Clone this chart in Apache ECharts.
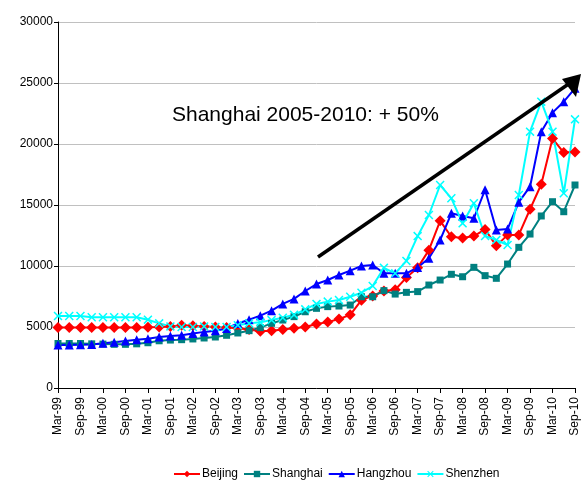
<!DOCTYPE html>
<html>
<head>
<meta charset="utf-8">
<script src="https://cdn.jsdelivr.net/npm/echarts@6/dist/echarts.min.js"></script>
<style>
html,body{margin:0;padding:0;background:#fff;}
#main{width:581px;height:481px;}
</style>
</head>
<body>
<div id="main"></div>
<script>
const quarters = ['Mar-99','Jun-99','Sep-99','Dec-99','Mar-00','Jun-00','Sep-00','Dec-00',
  'Mar-01','Jun-01','Sep-01','Dec-01','Mar-02','Jun-02','Sep-02','Dec-02',
  'Mar-03','Jun-03','Sep-03','Dec-03','Mar-04','Jun-04','Sep-04','Dec-04',
  'Mar-05','Jun-05','Sep-05','Dec-05','Mar-06','Jun-06','Sep-06','Dec-06',
  'Mar-07','Jun-07','Sep-07','Dec-07','Mar-08','Jun-08','Sep-08','Dec-08',
  'Mar-09','Jun-09','Sep-09','Dec-09','Mar-10','Jun-10','Sep-10'];

const beijing = [4950,4950,4950,4950,4950,4950,4950,4950,4980,5000,
  5050,5150,5100,5050,5000,4950,4900,4800,4650,4700,
  4800,4900,5000,5250,5400,5650,6000,7200,7550,7950,
  8050,9050,9850,11300,13700,12400,12300,12450,13000,11650,
  12550,12550,14650,16700,20450,19300,19350];

const shanghai = [3650,3650,3650,3620,3600,3580,3580,3620,3710,3870,
  3930,3960,4020,4100,4180,4320,4510,4700,4950,5300,
  5570,5850,6250,6530,6670,6720,6800,7480,7480,7980,
  7700,7840,7900,8440,8850,9320,9120,9890,9210,8990,
  10160,11530,12620,14100,15270,14450,16640];

const hangzhou = [3520,3530,3550,3560,3660,3750,3850,3960,4040,4180,
  4260,4320,4460,4600,4690,4880,5290,5600,5930,6340,
  6890,7300,7950,8520,8850,9260,9620,10000,10080,9400,
  9400,9400,9880,10630,12130,14320,14100,13910,16250,12950,
  13030,15230,16500,21010,22570,23470,24560];

const shenzhen = [5900,5900,5900,5800,5800,5800,5800,5800,5600,5300,
  5050,5000,5000,5050,5000,5000,5150,5300,5380,5570,
  5760,6000,6450,6890,7080,7210,7480,7810,8360,9850,
  9400,10420,12450,14180,16640,15550,13500,15140,12460,12130,
  11720,15820,21010,23470,21010,15960,22020];

const yTicks = {min: 0, max: 30000, interval: 5000};
const annotation = 'Shanghai 2005-2010: + 50%';

const FONT = 'Arial, "Liberation Sans", sans-serif';
const xMark = 'path://M0,1.2L1.2,0L5,3.8L8.8,0L10,1.2L6.2,5L10,8.8L8.8,10L5,6.2L1.2,10L0,8.8L3.8,5Z';

const chart = echarts.init(document.getElementById('main'), null, {renderer: 'canvas'});

function mk(name, data, color, symbol, size) {
  return {
    name: name, type: 'line', data: data,
    symbol: symbol, symbolSize: size, showAllSymbol: true,
    lineStyle: {color: color, width: 2},
    itemStyle: {color: color, borderWidth: 0},
    emphasis: {disabled: true},
    animation: false
  };
}

chart.setOption({
  backgroundColor: '#ffffff',
  animation: false,
  grid: {left: 58, right: 5, top: 22, bottom: 93, containLabel: false},
  xAxis: {
    type: 'category', data: quarters, boundaryGap: false,
    axisLine: {lineStyle: {color: '#000', width: 1}},
    axisTick: {show: true, interval: 1, length: 5, lineStyle: {color: '#000'}},
    axisLabel: {interval: 1, rotate: 90, margin: 9, color: '#000', fontSize: 12, fontFamily: FONT},
    splitLine: {show: false}
  },
  yAxis: {
    type: 'value', min: yTicks.min, max: yTicks.max, interval: yTicks.interval,
    axisLine: {show: true, lineStyle: {color: '#000', width: 1}},
    axisTick: {show: true, length: 4, lineStyle: {color: '#000'}},
    axisLabel: {color: '#000', fontSize: 12, fontFamily: FONT, margin: 5,
      formatter: function (v) { return String(v); }},
    splitLine: {show: true, lineStyle: {color: '#c0c0c0', width: 1}}
  },
  legend: {
    left: 168, top: 463, itemGap: 5, itemWidth: 26, itemHeight: 8,
    textStyle: {color: '#000', fontSize: 12, fontFamily: FONT, padding: [0,0,0,-3]},
    data: ['Beijing','Shanghai','Hangzhou','Shenzhen']
  },
  series: [
    mk('Beijing', beijing, '#ff0000', 'diamond', 11),
    mk('Shanghai', shanghai, '#008080', 'rect', 7),
    mk('Hangzhou', hangzhou, '#0000ff', 'triangle', 9),
    mk('Shenzhen', shenzhen, '#00ffff', xMark, 9)
  ],
  graphic: [
    {type: 'text', left: 172, top: 105, z: 100,
      style: {text: annotation, font: '21px ' + FONT, fill: '#000'}},
    {type: 'line', z: 100, shape: {x1: 318, y1: 257, x2: 570, y2: 83},
      style: {stroke: '#000', lineWidth: 3.5}},
    {type: 'polygon', z: 100, shape: {points: [[581,74],[562,79],[576,97]]},
      style: {fill: '#000'}}
  ]
});
</script>
</body>
</html>
